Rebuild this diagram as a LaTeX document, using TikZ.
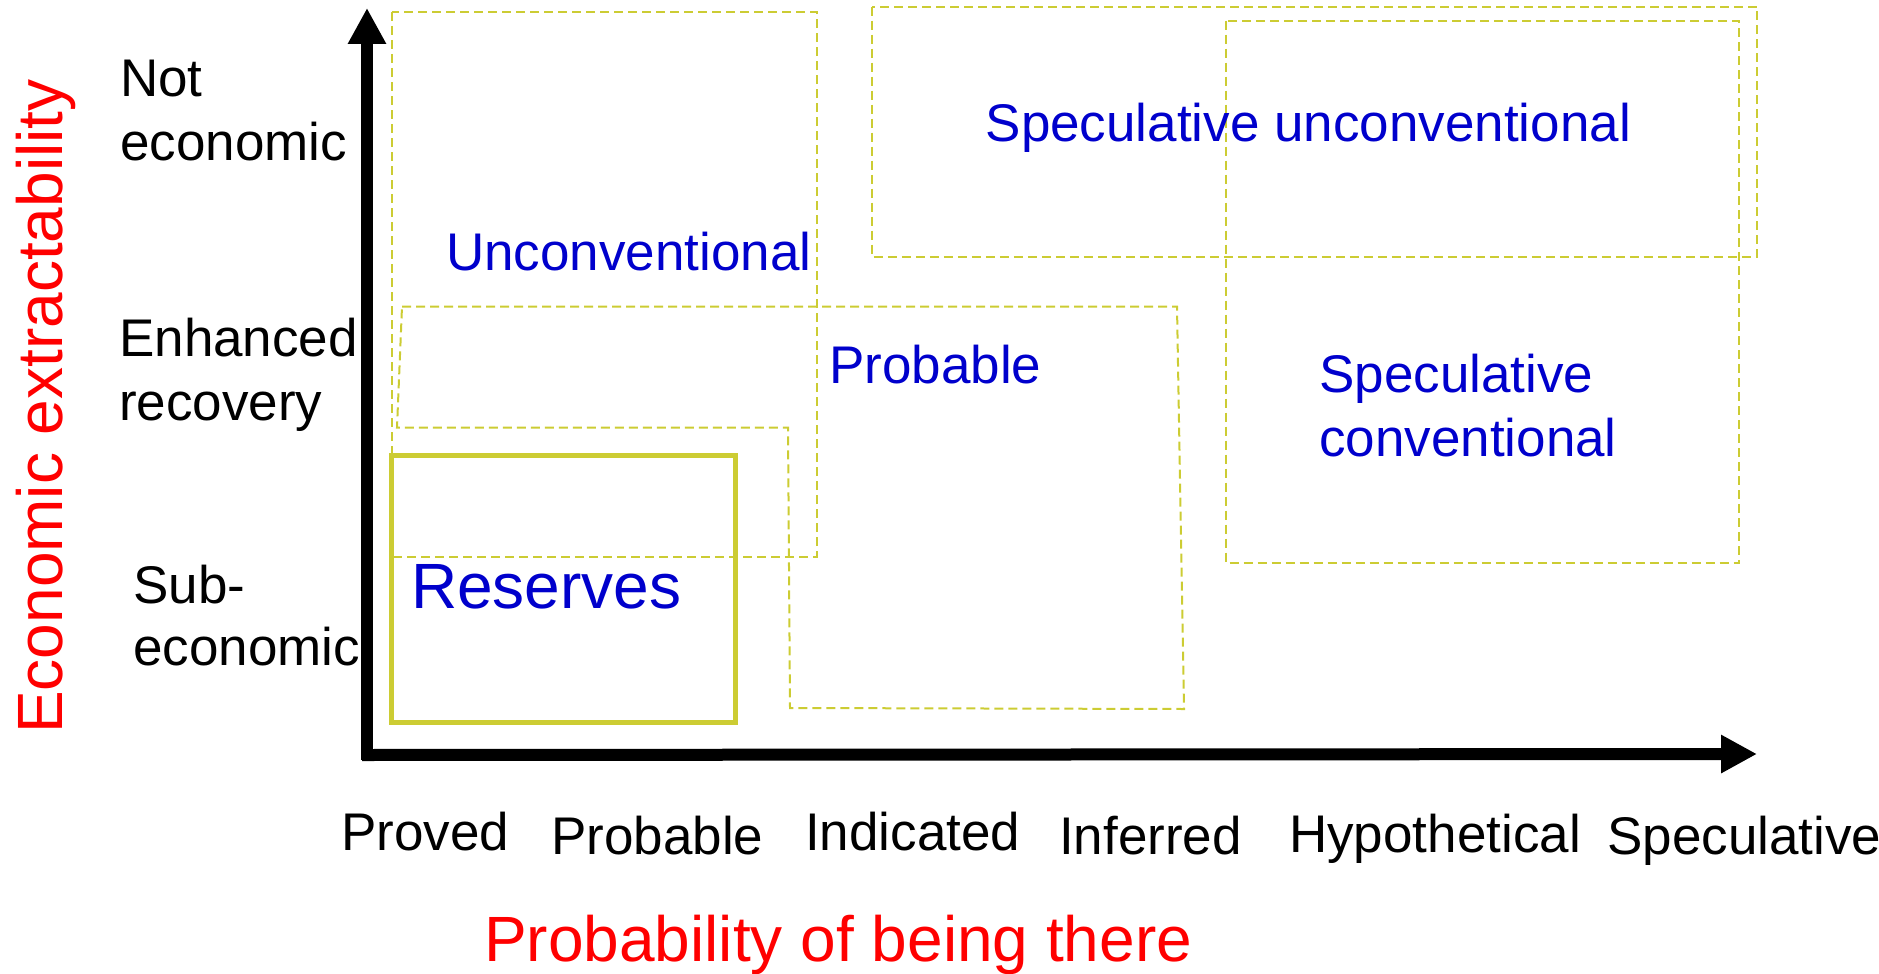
\documentclass[tikz,border=0pt]{standalone}
\usepackage{fontspec}
\setmainfont{Liberation Sans}
\usetikzlibrary{arrows.meta}
\definecolor{boxyellow}{RGB}{204,204,51}
\definecolor{labelblue}{RGB}{0,0,204}
\definecolor{axisred}{RGB}{255,0,0}
\begin{document}
\begin{tikzpicture}[x=1pt,y=-1pt,
  lab/.style={inner sep=0pt, anchor=base west, font=\fontsize{53}{63}\selectfont},
  biglab/.style={inner sep=0pt, anchor=base west, font=\fontsize{64}{76}\selectfont},
  bluelab/.style={lab, text=labelblue},
  region/.style={draw=boxyellow, line width=2pt, dash pattern=on 9pt off 5pt},
  axisline/.style={line width=12pt, -{Triangle[length=36pt,width=36pt]}}]

\path[use as bounding box] (0,0) rectangle (1879,974);

% dashed regions
\draw[region] (391.7,12) rectangle (816.5,556.7);
\draw[region] (402,306.7) -- (1177,306.7) -- (1184,709) -- (790,708) -- (788,427.5) -- (397,427.5) -- cycle;
\draw[region] (871.7,6.7) rectangle (1757.3,256.5);
\draw[region] (1226,20.7) rectangle (1739.3,563);
% reserves box
\draw[draw=boxyellow, line width=5pt] (391,455) rectangle (735.5,722.5);

% axes
\coordinate (ybot) at (367,760);
\coordinate (ytip) at (367,8);
\coordinate (xleft) at (362,755);
\coordinate (xtip) at (1757,754);
\draw[axisline] (ybot) -- (ytip);
\draw[axisline] (xleft) -- (xtip);

% y-axis category labels
\node[lab] (not1) at (120,96.7) {Not};
\node[lab] (not2) at (120,160) {economic};
\node[lab] (enh1) at (119,356) {Enhanced};
\node[lab] (enh2) at (119,420) {recovery};
\node[lab] (sub1) at (133,603) {Sub-};
\node[lab] (sub2) at (133,665) {economic};

% x-axis category labels
\node[lab] (proved) at (341,850) {Proved};
\node[lab] (probable) at (551,854) {Probable};
\node[lab] (indicated) at (805,850.7) {Indicated};
\node[lab] (inferred) at (1059,854) {Inferred};
\node[lab] (hypo) at (1289,852.7) {Hypothetical};
\node[lab] (spec) at (1607,854) {Speculative};

% region labels
\node[bluelab] (unconv) at (446,270) {Unconventional};
\node[bluelab] (prob) at (829,383.3) {Probable};
\node[bluelab] (specun) at (985.5,141) {Speculative unconventional};
\node[bluelab] (specc1) at (1319,392) {Speculative};
\node[bluelab] (specc2) at (1319,456) {conventional};
\node[biglab, text=labelblue] (reserves) at (411,608) {Reserves};

% axis titles
\node[biglab, text=axisred] (xtitle) at (484,961) {Probability of being there};
\node[biglab, text=axisred, rotate=90] (ytitle) at (62,734) {Economic extractability};
\end{tikzpicture}
\end{document}
